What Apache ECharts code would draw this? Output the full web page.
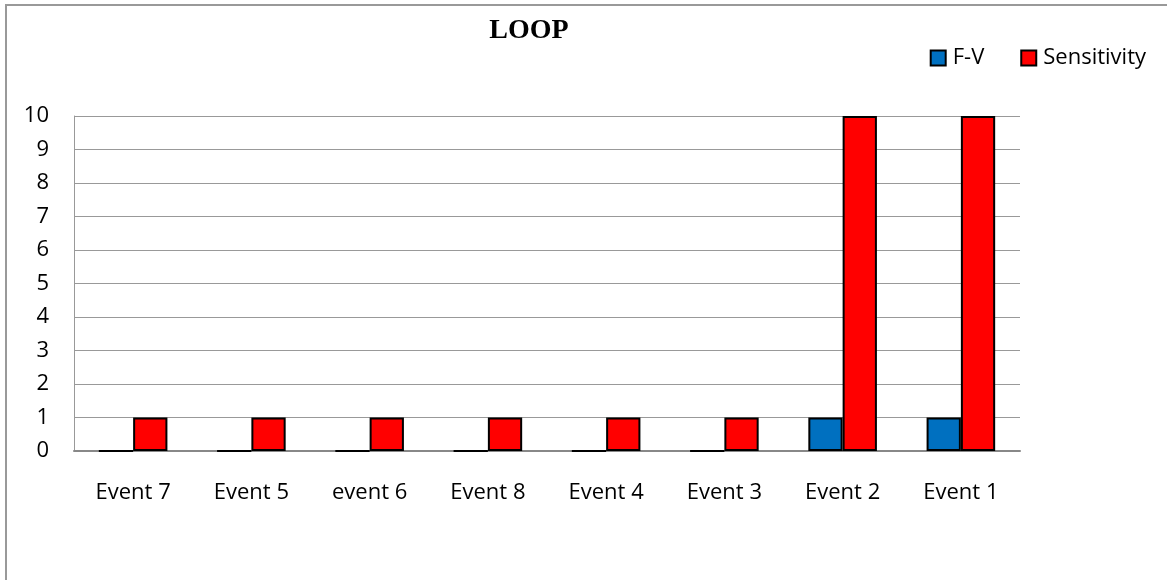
<!DOCTYPE html>
<html>
<head>
<meta charset="utf-8">
<script src="https://cdn.jsdelivr.net/npm/echarts@6/dist/echarts.min.js"></script>
<style>
  html, body { margin: 0; padding: 0; background: #fff; }
  #frame { position: absolute; left: 5px; top: 4px; width: 1170px; height: 590px;
           border-left: 2px solid #999; border-top: 2px solid #999; }
  #chart { position: absolute; left: 0; top: 0; width: 1167px; height: 580px; }
</style>
</head>
<body>
<div id="frame"></div>
<div id="chart"></div>
<script>
const categories = ['Event 7', 'Event 5', 'event 6', 'Event 8', 'Event 4', 'Event 3', 'Event 2', 'Event 1'];
const fvValues = [0, 0, 0, 0, 0, 0, 1, 1];
const sensitivityValues = [1, 1, 1, 1, 1, 1, 10, 10];
const yTicks = [0, 10, 1];

const chart = echarts.init(document.getElementById('chart'));

const barBorder = { borderColor: '#000', borderWidth: 2 };

chart.setOption({
  animation: false,
  title: {
    text: 'LOOP',
    left: 524,
    top: 12,
    textAlign: 'center',
    textStyle: { fontFamily: 'Liberation Serif', fontWeight: 'bold', fontSize: 28, color: '#000' }
  },
  legend: {
    right: 16,
    top: 42,
    itemWidth: 15,
    itemHeight: 15,
    itemGap: 36,
    icon: 'rect',
    textStyle: { fontFamily: 'Open Sans', fontSize: 22, color: '#000', padding: [0, 0, 0, 2] },
    data: ['F-V', 'Sensitivity']
  },
  grid: { left: 74, right: 147, top: 116, bottom: 129, containLabel: false },
  xAxis: {
    type: 'category',
    data: categories,
    axisLine: { lineStyle: { color: '#888', width: 2 } },
    axisTick: { show: false },
    axisLabel: { margin: 31, fontFamily: 'Open Sans', fontSize: 22, color: '#000' }
  },
  yAxis: {
    type: 'value',
    min: yTicks[0],
    max: yTicks[1],
    interval: yTicks[2],
    axisLine: { show: true, lineStyle: { color: '#999', width: 1 } },
    axisTick: { show: false },
    splitLine: { lineStyle: { color: '#999', width: 1 } },
    axisLabel: { margin: 25, fontFamily: 'Open Sans', fontSize: 22, color: '#000' }
  },
  series: [
    {
      name: 'F-V',
      type: 'bar',
      data: fvValues,
      barGap: '0%',
      barCategoryGap: '42%',
      itemStyle: Object.assign({ color: '#0070C0' }, barBorder)
    },
    {
      name: 'Sensitivity',
      type: 'bar',
      data: sensitivityValues,
      barGap: '0%',
      barCategoryGap: '42%',
      itemStyle: Object.assign({ color: '#FF0000' }, barBorder)
    }
  ]
});
</script>
</body>
</html>
